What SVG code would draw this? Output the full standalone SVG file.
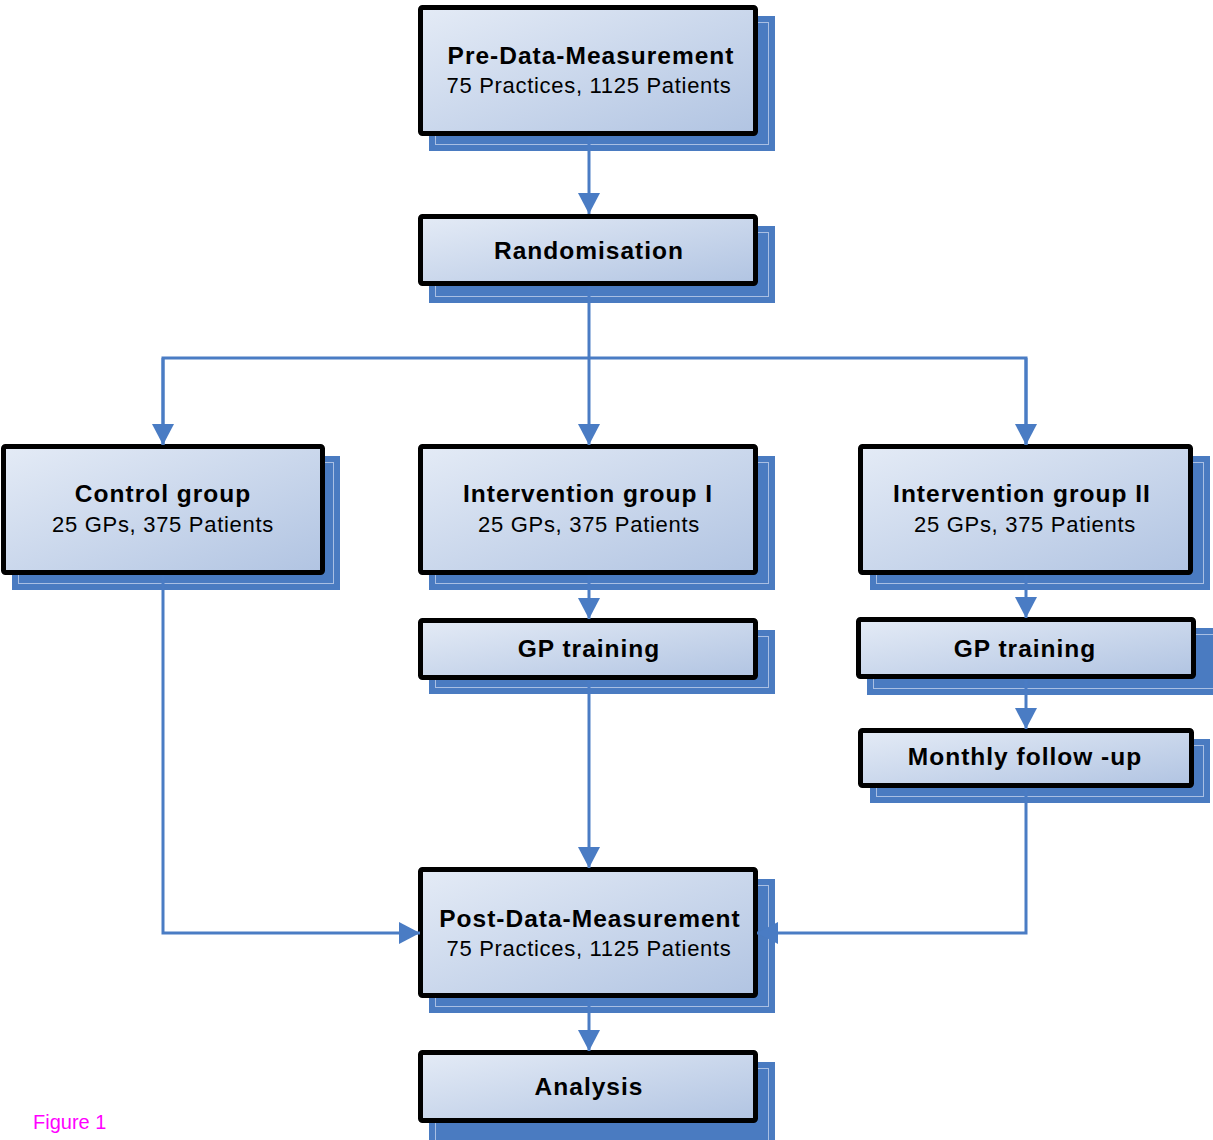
<svg xmlns="http://www.w3.org/2000/svg" width="1213" height="1140" viewBox="0 0 1213 1140">
<defs>
<linearGradient id="boxfill" x1="0" y1="0" x2="1" y2="1">
<stop offset="0" stop-color="#e4ebf6"/>
<stop offset="1" stop-color="#b1c4e2"/>
</linearGradient>
<marker id="arr" markerUnits="userSpaceOnUse" markerWidth="22" markerHeight="22" refX="21" refY="11" orient="auto">
<path d="M0,0 L21,11 L0,22 z" fill="#4a7cc4"/>
</marker>
<style>
.shadow{fill:#4a7bc1}
.inner{fill:none;stroke:#a9bfe3;stroke-width:1}
.box{fill:url(#boxfill);stroke:#000;stroke-width:5}
.t{font-family:"Liberation Sans",Arial,sans-serif;font-weight:bold;font-size:24.5px;letter-spacing:1px;fill:#000;text-anchor:middle}
.s{font-family:"Liberation Sans",Arial,sans-serif;font-size:22px;letter-spacing:0.7px;fill:#000;text-anchor:middle}
.conn{fill:none;stroke:#4a7cc4;stroke-width:3}
.fig{font-family:"Liberation Sans",Arial,sans-serif;font-size:20px;fill:#ff00ff}
</style>
</defs>
<rect width="1213" height="1140" fill="#fff"/>

<g id="pre">
<rect class="shadow" x="429" y="16" width="346" height="135"/>
<rect class="inner" x="435.5" y="22.5" width="333" height="122"/>
<rect class="box" x="420.5" y="7.5" width="335" height="126" rx="2"/>
<text class="t" x="591" y="64">Pre-Data-Measurement</text>
<text class="s" x="589" y="93">75 Practices, 1125 Patients</text>
</g>

<g id="rand">
<rect class="shadow" x="429" y="226" width="346" height="77"/>
<rect class="inner" x="435.5" y="232.5" width="333" height="64"/>
<rect class="box" x="420.5" y="216.5" width="335" height="67" rx="2"/>
<text class="t" x="589" y="259">Randomisation</text>
</g>

<g id="control">
<rect class="shadow" x="12" y="456" width="328" height="134"/>
<rect class="inner" x="18.5" y="462.5" width="315" height="121"/>
<rect class="box" x="3.5" y="446.5" width="319" height="126" rx="2"/>
<text class="t" x="163" y="502">Control group</text>
<text class="s" x="163" y="532">25 GPs, 375 Patients</text>
</g>

<g id="int1">
<rect class="shadow" x="429" y="456" width="346" height="134"/>
<rect class="inner" x="435.5" y="462.5" width="333" height="121"/>
<rect class="box" x="420.5" y="446.5" width="335" height="126" rx="2"/>
<text class="t" x="588" y="502">Intervention group I</text>
<text class="s" x="589" y="532">25 GPs, 375 Patients</text>
</g>

<g id="int2">
<rect class="shadow" x="870" y="456" width="340" height="134"/>
<rect class="inner" x="876.5" y="462.5" width="327" height="121"/>
<rect class="box" x="860.5" y="446.5" width="330" height="126" rx="2"/>
<text class="t" x="1022" y="502">Intervention group II</text>
<text class="s" x="1025" y="532">25 GPs, 375 Patients</text>
</g>

<g id="gp1">
<rect class="shadow" x="429" y="630" width="346" height="64"/>
<rect class="inner" x="435.5" y="636.5" width="333" height="51"/>
<rect class="box" x="420.5" y="620.5" width="335" height="57" rx="2"/>
<text class="t" x="589" y="657">GP training</text>
</g>

<g id="gp2">
<rect class="shadow" x="867" y="628" width="346" height="67"/>
<rect class="inner" x="873.5" y="634.5" width="340" height="54"/>
<rect class="box" x="858.5" y="619.5" width="335" height="57" rx="2"/>
<text class="t" x="1025" y="657">GP training</text>
</g>

<g id="monthly">
<rect class="shadow" x="870" y="739" width="340" height="64"/>
<rect class="inner" x="876.5" y="745.5" width="327" height="51"/>
<rect class="box" x="860.5" y="730.5" width="331" height="55" rx="2"/>
<text class="t" x="1025" y="765">Monthly follow -up</text>
</g>

<g id="post">
<rect class="shadow" x="429" y="879" width="346" height="134"/>
<rect class="inner" x="435.5" y="885.5" width="333" height="121"/>
<rect class="box" x="420.5" y="869.5" width="335" height="126" rx="2"/>
<text class="t" x="590" y="927">Post-Data-Measurement</text>
<text class="s" x="589" y="956">75 Practices, 1125 Patients</text>
</g>

<g id="analysis">
<rect class="shadow" x="429" y="1062" width="346" height="78"/>
<rect class="inner" x="435.5" y="1068.5" width="333" height="72"/>
<rect class="box" x="420.5" y="1052.5" width="335" height="68" rx="2"/>
<text class="t" x="589" y="1095">Analysis</text>
</g>

<g id="connectors">
<line class="conn" x1="589" y1="136" x2="589" y2="214" marker-end="url(#arr)"/>
<line class="conn" x1="589" y1="286" x2="589" y2="445" marker-end="url(#arr)"/>
<polyline class="conn" points="163,445 163,358 1026,358 1026,445"/>
<line class="conn" x1="163" y1="358" x2="163" y2="445" marker-end="url(#arr)"/>
<line class="conn" x1="1026" y1="358" x2="1026" y2="445" marker-end="url(#arr)"/>
<line class="conn" x1="589" y1="575" x2="589" y2="619" marker-end="url(#arr)"/>
<line class="conn" x1="1026" y1="575" x2="1026" y2="618" marker-end="url(#arr)"/>
<line class="conn" x1="1026" y1="679" x2="1026" y2="729" marker-end="url(#arr)"/>
<line class="conn" x1="589" y1="680" x2="589" y2="868" marker-end="url(#arr)"/>
<polyline class="conn" points="163,575 163,933 420,933" marker-end="url(#arr)"/>
<polyline class="conn" points="1026,788 1026,933 757,933" marker-end="url(#arr)"/>
<line class="conn" x1="589" y1="998" x2="589" y2="1051" marker-end="url(#arr)"/>
</g>

<text class="fig" x="33" y="1129">Figure 1</text>
</svg>
